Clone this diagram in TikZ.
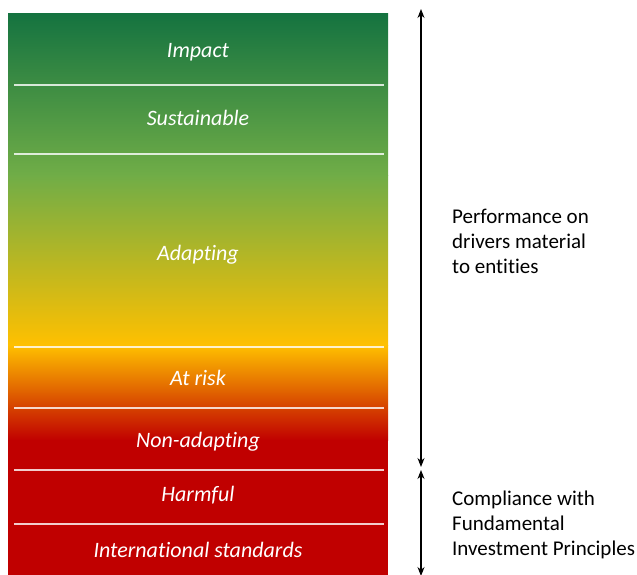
\documentclass[tikz,border=0pt]{standalone}
\usepackage{fontspec}
\setmainfont{Carlito}[Ligatures=NoCommon]
\usetikzlibrary{arrows.meta, positioning}

\definecolor{darkgreen}{RGB}{21,115,64}
\definecolor{leafgreen}{RGB}{112,173,71}
\definecolor{amber}{RGB}{255,192,0}
\definecolor{deepred}{RGB}{192,0,0}

\begin{document}
\begin{tikzpicture}[x=1pt, y=-1pt,
        band/.style={white, font=\fontsize{22}{26}\selectfont\itshape, text height=0.7em, text depth=0.2em},
        divider/.style={white, opacity=0.8, line width=1.4pt},
        span/.style={{Stealth[length=9pt, width=7pt]}-{Stealth[length=9pt, width=7pt]}, line width=1.1pt, black},
        note/.style={anchor=west, align=left, font=\fontsize{21}{25}\selectfont, inner sep=0pt}
    ]
    \useasboundingbox (0,0) rectangle (637,575);

    % colour bar
    \shade[top color=darkgreen, bottom color=leafgreen] (8,14) rectangle (388,175.5);
    \shade[top color=leafgreen, bottom color=amber] (8,175) rectangle (388,345.5);
    \shade[top color=amber, bottom color=deepred] (8,345) rectangle (388,440.5);
    \fill[deepred] (8,440) rectangle (388,575);

    \foreach \y in {85, 154, 347, 408, 470, 524}
        \draw[divider] (14,\y) -- (384,\y);

    \node[band] (impact) at (198,55) {Impact};
    \node[band] (sustainable) at (198,123) {Sustainable};
    \node[band] (adapting) at (198,258) {Adapting};
    \node[band] (atrisk) at (198,383) {At risk};
    \node[band] (nonadapting) at (198,445) {Non-adapting};
    \node[band] (harmful) at (198,499) {Harmful};
    \node[band] (standards) at (198,555) {International standards};

    % ranges
    \coordinate (perftop) at (421,9);
    \coordinate (perfbot) at (421,467);
    \coordinate (comptop) at (421,470);
    \coordinate (compbot) at (421,576);
    \draw[span] (perfbot) -- (perftop);
    \draw[span] (comptop) -- (compbot);

    \node[note] (performance) at (452,241) {Performance on\\drivers material\\to entities};
    \node[note] (compliance) at (452,525) {Compliance with\\Fundamental\\Investment Principles};
\end{tikzpicture}
\end{document}
